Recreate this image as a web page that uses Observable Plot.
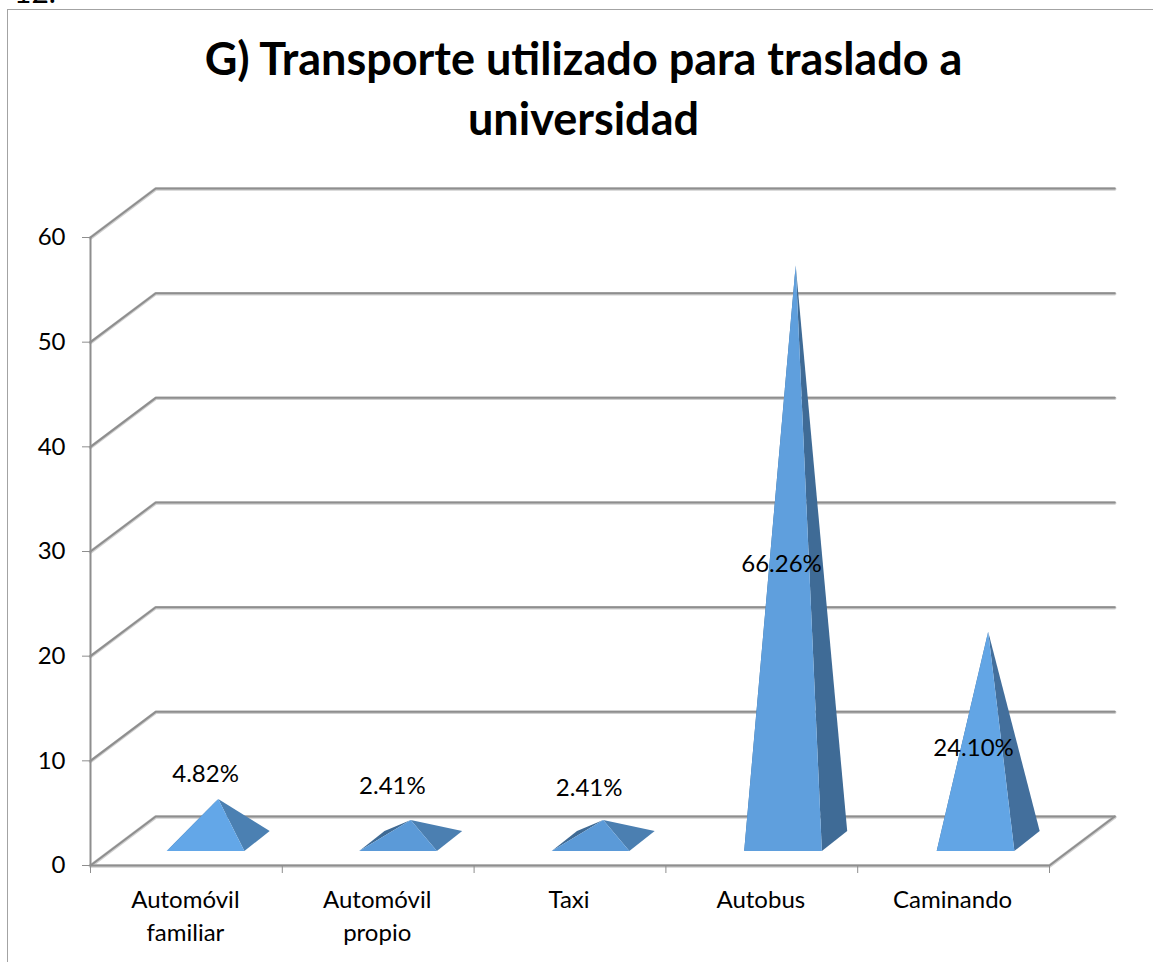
<!DOCTYPE html>
<html lang="es">
<head>
<meta charset="utf-8">
<script src="https://cdn.jsdelivr.net/npm/d3@7"></script>
<script src="https://cdn.jsdelivr.net/npm/@observablehq/plot@0.6"></script>
<style>
  html, body { margin: 0; padding: 0; background: #fff; overflow: hidden; }
  #page { position: relative; width: 1153px; height: 962px; overflow: hidden; font-family: Lato, "Open Sans", sans-serif; }
  #frame { position: absolute; left: 7px; top: 9px; right: -5px; bottom: -5px; border: 1.5px solid #a3a3a3; pointer-events: none; }
  #note { position: absolute; left: 14px; top: -27px; font-size: 30px; color: #000; }
  #title { height: 170px; box-sizing: border-box; padding: 28px 0 0 14px; margin: 0; text-align: center; font-size: 45px; line-height: 60px; font-weight: 700; color: #000; }
  #title span { display: block; }
  svg { display: block; }
</style>
</head>
<body>
<div id="page">
  <div id="frame"></div>
  <div id="note">12.</div>
  <h1 id="title"><span>G) Transporte utilizado para traslado a</span><span>universidad</span></h1>
  <div id="chart"></div>
</div>
<script>
// Data
const categories = ["Automóvil\nfamiliar", "Automóvil\npropio", "Taxi", "Autobus", "Caminando"];
const values = [4, 2, 2, 55, 20];
const percentLabels = ["4.82%", "2.41%", "2.41%", "66.26%", "24.10%"];
const yTicks = [0, 10, 20, 30, 40, 50, 60];

// Colours per pyramid
const frontColors = ["#63a7e8", "#5b9ad8", "#5b9ad8", "#5f9fdd", "#62a5e5"];
const sideColors = ["#4b80b2", "#4b7fb1", "#4b7fb1", "#3f6b96", "#436f9c"];
const hiddenColor = "#3f6a94";

// Oblique projection of the chart box, in scale units
const wallDX = 0.34, wallDY = 4.68;
const pyramidStep = 1.0036;
const baseLeft = 0.4, baseRight = 0.805, baseLift = 1.34, baseDX = 0.132, baseDY = 1.91;
const labelX = [0.6, 1.574, 2.6, 3.603, 4.604];
const labelY = [8.7, 7.6, 7.35, 28.75, 11.2];

const tri = (A, B, C) => [
  {x1: A[0], y1: A[1], x2: A[0], y2: A[1]},
  {x1: B[0], y1: B[1], x2: C[0], y2: C[1]}
];

const faces = values.flatMap((v, i) => {
  const o = i * pyramidStep;
  const FL = [o + baseLeft, baseLift];
  const FR = [o + baseRight, baseLift];
  const BR = [o + baseRight + baseDX, baseLift + baseDY];
  const BL = [o + baseLeft + baseDX, baseLift + baseDY];
  const apex = [o + (baseLeft + baseRight + baseDX) / 2, baseLift + baseDY / 2 + v];
  return [
    {rows: tri(apex, FL, BL), fill: hiddenColor},
    {rows: tri(apex, FR, BR), fill: sideColors[i]},
    {rows: tri(apex, FL, FR), fill: frontColors[i]}
  ];
});

const wallPaths = yTicks.flatMap(t => [
  {t, x: 0, y: t},
  {t, x: wallDX, y: t + wallDY},
  {t, x: 5 + wallDX, y: t + wallDY}
]);
const floorPath = [
  {x: 0, y: 0}, {x: 5, y: 0}, {x: 5 + wallDX, y: wallDY}
];
const axisPath = [{x: 0, y: 0}, {x: 0, y: 60}];
const gridStyle = {stroke: "#8e8e8e", strokeWidth: 2};
const glowStyle = {stroke: "#cfcfcf", strokeWidth: 3.5, dy: 0.5};

const chart = Plot.plot({
  width: 1153,
  height: 792,
  marginLeft: 90,
  marginRight: 104,
  marginTop: 67,
  marginBottom: 97,
  style: {fontFamily: "Lato, 'Open Sans', sans-serif", background: "transparent", overflow: "visible"},
  x: {type: "linear", domain: [0, 5], axis: null},
  y: {type: "linear", domain: [0, 60], axis: null},
  marks: [
    Plot.line(wallPaths, {x: "x", y: "y", z: "t", ...glowStyle}),
    Plot.line(floorPath, {x: "x", y: "y", ...glowStyle}),
    Plot.line(wallPaths, {x: "x", y: "y", z: "t", ...gridStyle}),
    Plot.line(floorPath, {x: "x", y: "y", ...gridStyle}),
    Plot.line(axisPath, {x: "x", y: "y", ...gridStyle}),
    Plot.axisY({ticks: yTicks, tickSize: 8, tickPadding: 17, label: null, fontSize: 24, stroke: "#8e8e8e", fill: "#000", anchor: "left"}),
    Plot.axisX({ticks: d3.range(0, 6), tickSize: 8, tickFormat: () => "", label: null, stroke: "#8e8e8e", anchor: "bottom"}),
    ...faces.map(f => Plot.area(f.rows, {x1: "x1", y1: "y1", x2: "x2", y2: "y2", fill: f.fill})),
    Plot.text(categories, {
      x: (d, i) => i + 0.5, y: () => 0, text: d => d, dx: -1, dy: 19,
      lineAnchor: "top", lineHeight: 1.375, fontSize: 24, fill: "#000"
    }),
    Plot.text(percentLabels, {
      x: (d, i) => labelX[i], y: (d, i) => labelY[i], text: d => d,
      fontSize: 24, fill: "#000"
    })
  ]
});
document.getElementById("chart").appendChild(chart);
</script>
</body>
</html>
